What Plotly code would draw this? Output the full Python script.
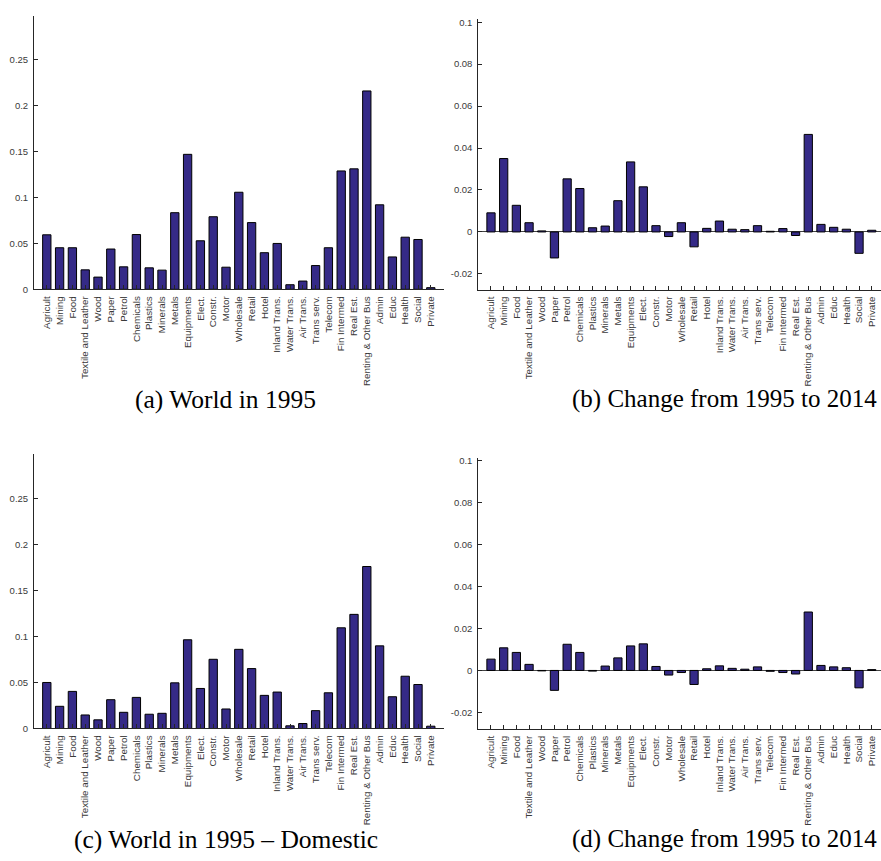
import plotly.graph_objects as go

W, H = 881, 861

sectors = ["Agricult", "Mining", "Food", "Textile and Leather", "Wood", "Paper", "Petrol",
           "Chemicals", "Plastics", "Minerals", "Metals", "Equipments", "Elect.", "Constr.",
           "Motor", "Wholesale", "Retail", "Hotel", "Inland Trans.", "Water Trans.",
           "Air Trans.", "Trans serv.", "Telecom", "Fin Intermed", "Real Est.",
           "Renting & Other Bus", "Admin", "Educ", "Health", "Social", "Private"]

world_1995 = [0.0594, 0.0453, 0.0453, 0.0212, 0.0133, 0.0439, 0.0245, 0.0597, 0.0234, 0.0209,
              0.0835, 0.1471, 0.0529, 0.0791, 0.0241, 0.1058, 0.0727, 0.0399, 0.0500, 0.0050,
              0.0090, 0.0259, 0.0453, 0.1290, 0.1313, 0.2162, 0.0921, 0.0353, 0.0568, 0.0543,
              0.0018]

change_1995_2014 = [0.0091, 0.0350, 0.0127, 0.0044, 0.0005, -0.0124, 0.0253, 0.0207, 0.0020,
                    0.0028, 0.0149, 0.0334, 0.0215, 0.0030, -0.0022, 0.0044, -0.0071, 0.0017,
                    0.0052, 0.0013, 0.0011, 0.0030, 0.0003, 0.0016, -0.0017, 0.0465, 0.0036,
                    0.0022, 0.0013, -0.0102, 0.0008]

domestic_1995 = [0.0500, 0.0241, 0.0403, 0.0147, 0.0094, 0.0313, 0.0176, 0.0338, 0.0155, 0.0165,
                 0.0496, 0.0964, 0.0435, 0.0752, 0.0212, 0.0860, 0.0651, 0.0360, 0.0396, 0.0029,
                 0.0054, 0.0194, 0.0388, 0.1094, 0.1240, 0.1760, 0.0898, 0.0345, 0.0568, 0.0478,
                 0.0025]

domestic_change = [0.0054, 0.0108, 0.0086, 0.0029, -0.0002, -0.0095, 0.0125, 0.0086, -0.0003,
                   0.0021, 0.0060, 0.0117, 0.0127, 0.0019, -0.0022, -0.0010, -0.0067, 0.0008,
                   0.0022, 0.0010, 0.0006, 0.0017, -0.0004, -0.0010, -0.0017, 0.0279, 0.0024,
                   0.0017, 0.0013, -0.0083, 0.0004]

captions = ["(a) World in 1995", "(b) Change from 1995 to 2014",
            "(c) World in 1995 \u2013 Domestic", "(d) Change from 1995 to 2014"]

share_ticks = [0, 0.05, 0.1, 0.15, 0.2, 0.25]
share_labels = ["0", "0.05", "0.1", "0.15", "0.2", "0.25"]
change_ticks = [-0.02, 0, 0.02, 0.04, 0.06, 0.08, 0.1]
change_labels = ["-0.02", "0", "0.02", "0.04", "0.06", "0.08", "0.1"]

BAR = "#352a87"
AX = "#262626"

# panel boxes in pixels: (x0, x1, ytop, ybottom)
panels = [
    (34, 443.6, 13, 289, world_1995, (0, 0.298), share_ticks, share_labels, (-1, 31)),
    (478.3, 881, 16, 289.3, change_1995_2014, (-0.0275, 0.1016), change_ticks, change_labels, (-1, 30.73)),
    (34, 443.6, 455, 732.3, domestic_1995, (0, 0.2985), share_ticks, share_labels, (-1, 31)),
    (478.3, 881, 459.3, 732.7, domestic_change, (-0.0279, 0.1014), change_ticks, change_labels, (-1, 30.73)),
]
cap_pos = [(225, 400, 25.5), (724, 400, 25), (226, 844, 25.5), (724, 844, 25)]

fig = go.Figure()
layout = dict(width=W, height=H, margin=dict(l=0, r=0, t=0, b=0),
              paper_bgcolor="white", plot_bgcolor="white", showlegend=False,
              bargap=0.35, annotations=[])

for i, (x0, x1, yt, yb, vals, yr, tv, tt, xr) in enumerate(panels):
    n = "" if i == 0 else str(i + 1)
    fig.add_trace(go.Bar(x=sectors, y=vals, xaxis="x" + n, yaxis="y" + n,
                         marker=dict(color=BAR, line=dict(color="black", width=1)),
                         width=0.65))
    layout["xaxis" + n] = dict(domain=[x0 / W, min(x1 / W, 1)], anchor="y" + n,
                               type="category", range=list(xr), showline=True,
                               tickmode="array", tickvals=sectors, ticktext=sectors,
                               linecolor=AX, linewidth=1, ticks="inside", ticklen=4,
                               tickcolor=AX, tickangle=-90, showgrid=False,
                               tickfont=dict(family="Liberation Sans", size=9.8, color="#3a3a3a"),
                               ticklabelstandoff=2)
    layout["yaxis" + n] = dict(domain=[1 - yb / H, 1 - yt / H], anchor="x" + n,
                               range=list(yr), showline=True, linecolor=AX, linewidth=1,
                               ticks="inside", ticklen=4, tickcolor=AX, showgrid=False,
                               tickvals=tv, ticktext=tt,
                               zeroline=(yr[0] < 0), zerolinecolor="#444444", zerolinewidth=1,
                               tickfont=dict(family="Liberation Sans", size=9.5, color="#3a3a3a"),
                               ticklabelstandoff=3)
    cx, cy, fs = cap_pos[i]
    layout["annotations"].append(dict(text=captions[i], x=cx / W, y=1 - cy / H,
                                      xref="paper", yref="paper", showarrow=False,
                                      xanchor="center", yanchor="middle",
                                      font=dict(family="Liberation Serif", size=fs, color="black")))

fig.update_layout(**layout)
fig.write_html("out.html", config={"displayModeBar": False},
               post_script="document.body.style.margin='0';document.body.style.overflow='hidden';")
